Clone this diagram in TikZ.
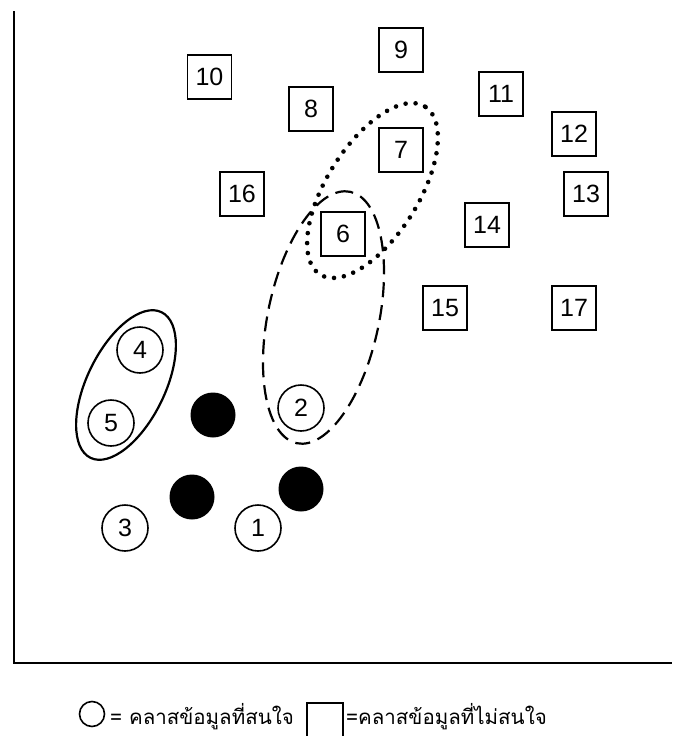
\documentclass[tikz,border=0pt]{standalone}
\usepackage{fontspec}
\usepackage{tikz}
\usetikzlibrary{shapes.geometric}
\newfontfamily\numfont{Liberation Sans}
\newfontfamily\thaifont[Script=Thai]{Loma}

\begin{document}
\begin{tikzpicture}[
    x=1pt, y=-1pt,
    axis/.style={line width=2.2pt, black},
    other/.style={rectangle, draw, line width=1.6pt, minimum size=44pt, inner sep=0pt, font=\numfont\fontsize{25}{25}\selectfont},
    interest/.style={circle, draw, line width=1.6pt, minimum size=46pt, inner sep=0pt, font=\numfont\fontsize{25}{25}\selectfont},
    dotpt/.style={circle, fill=black, minimum size=45pt, inner sep=0pt},
    group/.style={ellipse, draw, inner sep=0pt},
    legendtext/.style={anchor=west, inner sep=0pt, font=\thaifont\fontsize{20.5}{20.5}\selectfont}
]
    \useasboundingbox (0,0) rectangle (672,736);

    % axes
    \coordinate (top) at (14,11);
    \coordinate (origin) at (14,663);
    \coordinate (right) at (672,663);
    \draw[axis] (top) -- (origin) -- (right);

    % groups
    \node[group, line width=2.2pt, minimum width=162pt, minimum height=78pt, rotate=64] (grpFour) at (126,385) {};
    \node[group, line width=2.2pt, dash pattern=on 15pt off 8pt, minimum width=257pt, minimum height=111pt, rotate=78] (grpTwo) at (323.5,317.5) {};
    \node[group, line width=4.6pt, line cap=round, dash pattern=on 0pt off 10pt, minimum width=198pt, minimum height=92pt, rotate=58] (grpSeven) at (372.5,190.5) {};

    % uninteresting classes
    \node[other] (c10) at (209.5,77) {10};
    \node[other] (c9) at (401,50) {9};
    \node[other] (c8) at (311,109) {8};
    \node[other] (c11) at (501,94) {11};
    \node[other] (c12) at (574,134) {12};
    \node[other] (c13) at (586,194) {13};
    \node[other] (c14) at (487,225) {14};
    \node[other] (c15) at (445,308) {15};
    \node[other] (c17) at (574,308) {17};
    \node[other] (c7) at (401,150) {7};
    \node[other] (c6) at (343,234) {6};
    \node[other] (c16) at (242,194) {16};

    % interesting classes
    \node[interest] (c4) at (140,350) {4};
    \node[interest] (c5) at (111,423) {5};
    \node[interest] (c2) at (301,408) {2};
    \node[interest] (c3) at (125,528) {3};
    \node[interest] (c1) at (258,528) {1};

    % filled points
    \node[dotpt] (dotA) at (213,415) {};
    \node[dotpt] (dotB) at (192,497) {};
    \node[dotpt] (dotC) at (301,489) {};

    % legend
    \node[circle, draw, line width=1.6pt, minimum size=25pt, inner sep=0pt] (keyCircle) at (92,714) {};
    \node[legendtext] (keyCircleText) at (110,717) {= คลาสข้อมูลที่สนใจ};
    \node[rectangle, draw, line width=1.6pt, minimum size=36pt, inner sep=0pt] (keyBox) at (325,721) {};
    \node[legendtext] (keyBoxText) at (346,717) {=คลาสข้อมูลที่ไม่สนใจ};
\end{tikzpicture}
\end{document}
